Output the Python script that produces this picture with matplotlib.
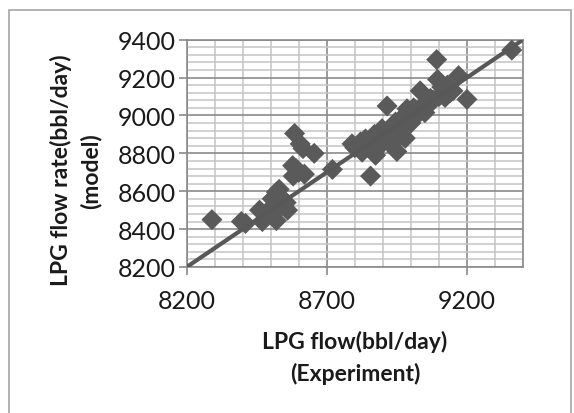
import matplotlib
matplotlib.use("Agg")
import matplotlib.pyplot as plt
from matplotlib.patches import Rectangle
import numpy as np

exp_flow = [8290, 8395, 8410, 8460, 8470, 8490, 8520, 8505, 8520, 8530,
            8545, 8555, 8560, 8578, 8580, 8590, 8620, 8585, 8605, 8615,
            8655, 8720, 8790, 8800, 8826, 8838, 8856, 8860, 8874, 8880,
            8897, 8900, 8915, 8921, 8945, 8950, 8960, 8980, 8986, 9000,
            9020, 9033, 9050, 9060, 9080, 9092, 9095, 9110, 9122, 9140,
            9170, 9200, 9360,
            8480, 8500, 8510, 8535, 8600, 8820, 8845, 8870, 8890, 8910,
            8930, 8970, 9010, 9040, 9070, 9100, 9130, 9150, 8940, 8985]
model_flow = [8450, 8440, 8430, 8500, 8440, 8470, 8445, 8560, 8595, 8610,
              8525, 8540, 8500, 8735, 8680, 8720, 8690, 8905, 8850, 8825,
              8800, 8715, 8850, 8830, 8806, 8876, 8680, 8840, 8790, 8860,
              8930, 8880, 9050, 8858, 8965, 8810, 8900, 8880, 9035, 8960,
              9000, 9130, 9015, 9060, 9080, 9295, 9190, 9150, 9095, 9120,
              9210, 9085, 9345,
              8480, 8510, 8480, 8570, 8700, 8860, 8850, 8900, 8840, 8890,
              8930, 8990, 9040, 9050, 9090, 9100, 9160, 9130, 8860, 8950]
line_x = [8200, 9400]
line_y = [8200, 9400]
x_ticks = [8200, 8700, 9200]
y_ticks = [8200, 8400, 8600, 8800, 9000, 9200, 9400]

plt.rcParams['font.family'] = ['Lato', 'DejaVu Sans']

W, H = 574, 414
fig = plt.figure(figsize=(W / 100, H / 100), dpi=100)
fig.patch.set_facecolor('white')

# outer chart border
fig.patches.append(Rectangle((9 / W, -0.05), (571 - 9) / W, 1.05 - 11 / H,
                             transform=fig.transFigure, fill=False,
                             edgecolor='#a6a6a6', linewidth=1.2))

ax_l, ax_r, ax_t, ax_b = 186.7, 523, 40.7, 268
ax = fig.add_axes([ax_l / W, 1 - ax_b / H, (ax_r - ax_l) / W, (ax_b - ax_t) / H])
ax.set_xlim(8200, 9400)
ax.set_ylim(8200, 9400)
ax.set_xticks(x_ticks)
ax.set_yticks(y_ticks)
ax.set_xticks(np.arange(8200, 9401, 100), minor=True)
ax.set_yticks(np.arange(8200, 9401, 40), minor=True)
ax.grid(which='minor', color='#c4c4c4', linewidth=1.1, zorder=0)
ax.grid(which='major', color='#8a8a8a', linewidth=1.2, zorder=0)
ax.set_axisbelow(True)
for s in ax.spines.values():
    s.set_color('#8a8a8a')
    s.set_linewidth(1.2)
ax.tick_params(which='major', length=6, width=1.2, color='#8a8a8a',
               labelsize=18, labelcolor='#1a1a1a', pad=2)
ax.tick_params(axis='x', which='major', pad=10)
ax.tick_params(which='minor', length=0)

ax.scatter(exp_flow, model_flow, marker='D', s=115, color='#5a5a5a',
           edgecolors='none', zorder=3, clip_on=False)
ax.plot(line_x, line_y, color='#585858', linewidth=3.0, zorder=4,
        solid_capstyle='butt')

cx = (ax_l + ax_r) / 2
fig.text(cx / W, 1 - 342 / H, 'LPG flow(bbl/day)', ha='center', va='center',
         fontsize=16.5, fontweight='bold', color='#1a1a1a')
fig.text(cx / W, 1 - 374 / H, '(Experiment)', ha='center', va='center',
         fontsize=16.5, fontweight='bold', color='#1a1a1a')
fig.text(61 / W, 1 - 170 / H, 'LPG flow rate(bbl/day)', ha='center', va='center',
         rotation=90, fontsize=16.5, fontweight='bold', color='#1a1a1a')
fig.text(91 / W, 1 - 171 / H, '(model)', ha='center', va='center',
         rotation=90, fontsize=16.5, fontweight='bold', color='#1a1a1a')

fig.savefig('out.png', dpi=100)
